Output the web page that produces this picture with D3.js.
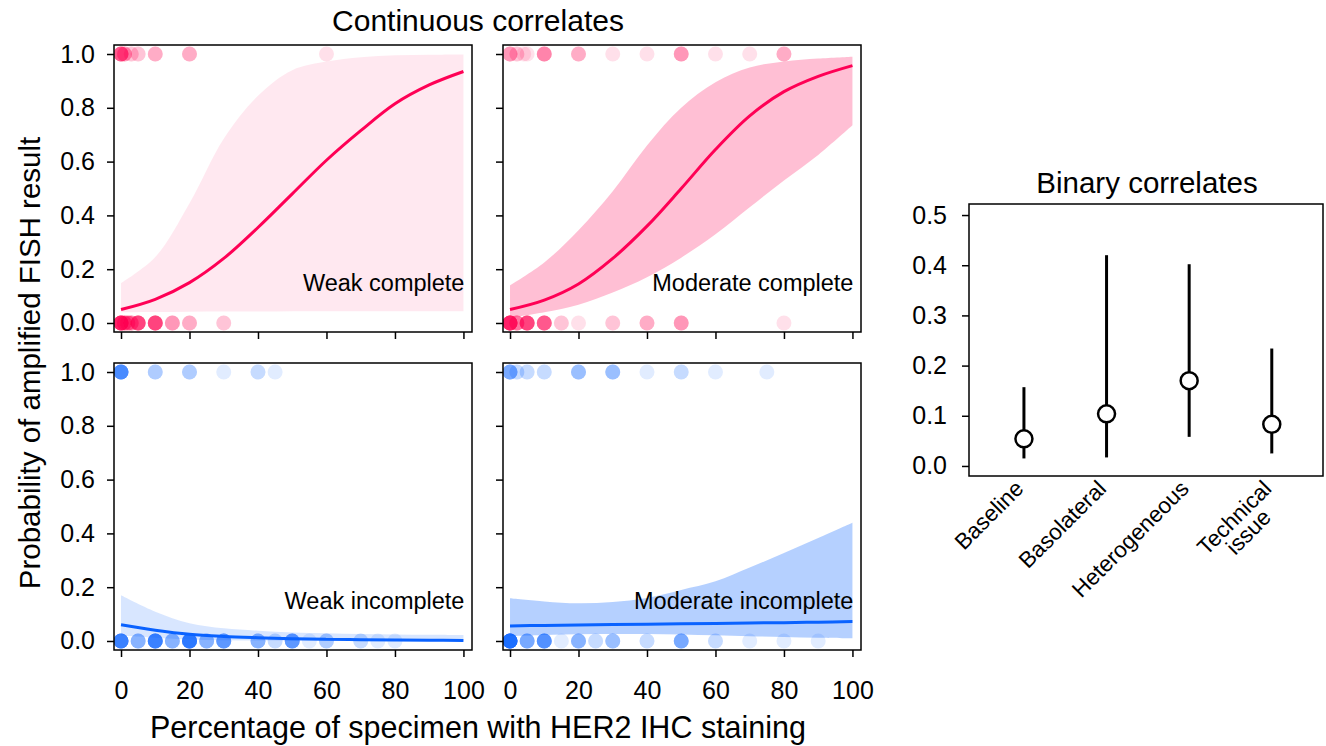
<!DOCTYPE html>
<html>
<head>
<meta charset="utf-8">
<script src="https://cdn.jsdelivr.net/npm/d3@7"></script>
<style>
  body { margin: 0; background: #fff; }
  svg { font-family: "Liberation Sans", Arial, Helvetica, sans-serif; }
  .axis path.domain { display: none; }
  .axis line { stroke: #000; stroke-width: 1.5; }
  .axis text { fill: #000; font-size: 25px; }
</style>
</head>
<body>
<svg width="1326" height="746"></svg>
<script>
// grid of x values the fitted curves were read at
const xGrid = [0, 10, 20, 30, 40, 50, 60, 70, 80, 90, 100];

// weak complete
const wcFit = [0.05, 0.088, 0.15, 0.24, 0.355, 0.48, 0.605, 0.715, 0.815, 0.885, 0.935];
const wcLo = [0.04, 0.041, 0.042, 0.043, 0.043, 0.044, 0.044, 0.044, 0.044, 0.044, 0.044];
const wcHi = [0.148, 0.245, 0.445, 0.685, 0.845, 0.94, 0.972, 0.988, 0.995, 0.997, 0.998];
const wcYes = [[0, 8], [1, 4], [3, 2], [5, 2], [10, 3], [20, 3], [60, 1]];
const wcNo = [[0, 15], [1, 6], [2, 5], [3, 5], [5, 10], [10, 10], [15, 4], [20, 3], [30, 2]];

// moderate complete
const mcFit = [0.05, 0.085, 0.145, 0.24, 0.36, 0.5, 0.645, 0.77, 0.86, 0.917, 0.957];
const mcLo = [0.02, 0.04, 0.068, 0.113, 0.17, 0.243, 0.33, 0.43, 0.53, 0.625, 0.735];
const mcHi = [0.14, 0.225, 0.345, 0.49, 0.66, 0.8, 0.895, 0.95, 0.972, 0.983, 0.99];
const mcYes = [[0, 4], [2, 2], [4, 1], [5, 1], [10, 5], [20, 3], [30, 1], [40, 1], [50, 4], [60, 1], [70, 1], [80, 3]];
const mcNo = [[0, 15], [2, 6], [5, 10], [10, 8], [15, 2], [20, 1], [30, 2], [40, 3], [50, 4], [80, 1]];

// weak incomplete
const wiFit = [0.06, 0.04, 0.025, 0.017, 0.012, 0.008, 0.006, 0.005, 0.004, 0.003, 0.002];
const wiLo = [0.02, 0.012, 0.006, 0.003, 0.0015, 0.001, 0.0005, 0.0003, 0.0002, 0.0001, 0.0001];
const wiHi = [0.17, 0.109, 0.066, 0.047, 0.038, 0.032, 0.029, 0.026, 0.024, 0.023, 0.022];
const wiYes = [[0, 10], [10, 3], [20, 3], [30, 1], [40, 2], [45, 1]];
const wiNo = [[0, 12], [5, 5], [10, 12], [15, 5], [20, 14], [25, 5], [30, 8], [40, 5], [45, 2], [50, 8], [55, 1], [60, 3], [70, 2], [75, 1], [80, 1]];

// moderate incomplete
const miFit = [0.056, 0.058, 0.059, 0.061, 0.062, 0.064, 0.065, 0.067, 0.068, 0.07, 0.072];
const miLo = [0.018, 0.022, 0.025, 0.026, 0.026, 0.024, 0.021, 0.018, 0.015, 0.012, 0.01];
const miHi = [0.159, 0.147, 0.14, 0.145, 0.16, 0.19, 0.222, 0.273, 0.327, 0.383, 0.44];
const miYes = [[0, 6], [2, 2], [5, 2], [10, 2], [20, 4], [30, 4], [40, 1], [50, 2], [60, 1], [75, 1]];
const miNo = [[0, 18], [5, 6], [10, 9], [15, 1], [20, 5], [25, 2], [30, 4], [40, 2], [50, 6], [60, 2], [70, 1], [80, 1], [90, 1]];

// binary correlates
const binCategories = ['Baseline', 'Basolateral', 'Heterogeneous', 'Technical issue'];
const binEst = [0.054, 0.104, 0.17, 0.083];
const binLo = [0.015, 0.017, 0.058, 0.025];
const binHi = [0.157, 0.42, 0.402, 0.234];

const xTicks = [0, 20, 40, 60, 80, 100];
const yTicks = [0, 0.2, 0.4, 0.6, 0.8, 1];
const binTicks = [0, 0.1, 0.2, 0.3, 0.4, 0.5];

const pink = '#ff0055';
const blue = '#0a62ff';

const svg = d3.select('svg');
svg.append('rect').attr('width', 1326).attr('height', 746).attr('fill', '#fff');

const panels = [
  { label: 'Weak complete', fit: wcFit, lo: wcLo, hi: wcHi, yes: wcYes, no: wcNo, color: pink, band: 0.09, left: 114, top: 45, xLabels: false, yLabels: true },
  { label: 'Moderate complete', fit: mcFit, lo: mcLo, hi: mcHi, yes: mcYes, no: mcNo, color: pink, band: 0.25, left: 503, top: 45, xLabels: false, yLabels: false },
  { label: 'Weak incomplete', fit: wiFit, lo: wiLo, hi: wiHi, yes: wiYes, no: wiNo, color: blue, band: 0.16, left: 114, top: 363, xLabels: true, yLabels: true },
  { label: 'Moderate incomplete', fit: miFit, lo: miLo, hi: miHi, yes: miYes, no: miNo, color: blue, band: 0.3, left: 503, top: 363, xLabels: true, yLabels: false }
];

const pw = 358;
const ph = 287;
const smooth = d3.curveCatmullRom.alpha(0.5);

const drawPanel = (p, i) => {
  const x = d3.scaleLinear().domain([-2.05, 102.5]).range([p.left, p.left + pw]);
  const y = d3.scaleLinear().domain([-0.0335, 1.0335]).range([p.top + ph, p.top]);
  const g = svg.append('g');

  const clipId = 'clip' + i;
  svg.append('clipPath').attr('id', clipId)
    .append('rect').attr('x', p.left).attr('y', p.top).attr('width', pw).attr('height', ph);

  const inner = g.append('g').attr('clip-path', `url(#${clipId})`);

  const rows = xGrid.map((v, k) => ({ x: v, fit: p.fit[k], lo: p.lo[k], hi: p.hi[k] }));

  inner.append('path')
    .datum(rows)
    .attr('fill', p.color)
    .attr('fill-opacity', p.band)
    .attr('d', d3.area()
      .curve(smooth)
      .x((d) => x(d.x))
      .y0((d) => y(d.lo))
      .y1((d) => y(d.hi)));

  // observations: each one is a faint disc, overlaps build up colour
  const dots = [];
  p.yes.forEach(([v, n]) => { for (let k = 0; k < n; k++) dots.push({ x: v, y: 1 }); });
  p.no.forEach(([v, n]) => { for (let k = 0; k < n; k++) dots.push({ x: v, y: 0 }); });

  inner.selectAll('circle')
    .data(dots)
    .enter()
    .append('circle')
    .attr('cx', (d) => x(d.x))
    .attr('cy', (d) => y(d.y))
    .attr('r', 7.5)
    .attr('fill', p.color)
    .attr('fill-opacity', 0.12);

  inner.append('path')
    .datum(rows)
    .attr('fill', 'none')
    .attr('stroke', p.color)
    .attr('stroke-width', 3)
    .attr('d', d3.line()
      .curve(smooth)
      .x((d) => x(d.x))
      .y((d) => y(d.fit)));

  g.append('rect')
    .attr('x', p.left).attr('y', p.top)
    .attr('width', pw).attr('height', ph)
    .attr('fill', 'none').attr('stroke', '#000').attr('stroke-width', 1.5);

  g.append('g')
    .attr('class', 'axis')
    .attr('transform', `translate(${p.left},0)`)
    .call(d3.axisLeft(y).tickValues(yTicks).tickSize(7).tickPadding(12)
      .tickFormat(p.yLabels ? d3.format('.1f') : ''));

  g.append('g')
    .attr('class', 'axis')
    .attr('transform', `translate(0,${p.top + ph})`)
    .call(d3.axisBottom(x).tickValues(xTicks).tickSize(7).tickPadding(24)
      .tickFormat(p.xLabels ? d3.format('d') : ''));

  g.append('text')
    .attr('x', x(100) + 1)
    .attr('y', y(0.12))
    .attr('text-anchor', 'end')
    .attr('font-size', 23.5)
    .text(p.label);
};

panels.forEach(drawPanel);

svg.append('text')
  .attr('x', 478).attr('y', 31)
  .attr('text-anchor', 'middle').attr('font-size', 30)
  .text('Continuous correlates');

svg.append('text')
  .attr('x', 478).attr('y', 738)
  .attr('text-anchor', 'middle').attr('font-size', 30.5)
  .text('Percentage of specimen with HER2 IHC staining');

svg.append('text')
  .attr('transform', 'translate(40,363) rotate(-90)')
  .attr('text-anchor', 'middle').attr('font-size', 29.5)
  .text('Probability of amplified FISH result');

// binary correlates panel
const bx = d3.scaleLinear().domain([0.335, 4.62]).range([969, 1323]);
const by = d3.scaleLinear().domain([-0.02, 0.522]).range([476, 204]);
const bg = svg.append('g');

bg.append('text')
  .attr('x', 1147).attr('y', 193)
  .attr('text-anchor', 'middle').attr('font-size', 29.5)
  .text('Binary correlates');

bg.append('rect')
  .attr('x', 969).attr('y', 204)
  .attr('width', 1323 - 969).attr('height', 476 - 204)
  .attr('fill', 'none').attr('stroke', '#000').attr('stroke-width', 1.5);

bg.append('g')
  .attr('class', 'axis')
  .attr('transform', 'translate(969,0)')
  .call(d3.axisLeft(by).tickValues(binTicks).tickSize(7).tickPadding(15).tickFormat(d3.format('.1f')));

const binRows = binCategories.map((c, k) => ({ c, i: k + 1, est: binEst[k], lo: binLo[k], hi: binHi[k] }));

bg.selectAll('line.ci')
  .data(binRows)
  .enter()
  .append('line')
  .attr('class', 'ci')
  .attr('x1', (d) => bx(d.i)).attr('x2', (d) => bx(d.i))
  .attr('y1', (d) => by(d.lo)).attr('y2', (d) => by(d.hi))
  .attr('stroke', '#000').attr('stroke-width', 3);

bg.selectAll('circle')
  .data(binRows)
  .enter()
  .append('circle')
  .attr('cx', (d) => bx(d.i)).attr('cy', (d) => by(d.est))
  .attr('r', 8.5)
  .attr('fill', '#fff').attr('stroke', '#000').attr('stroke-width', 2.5);

const catLabels = bg.selectAll('g.cat')
  .data(binRows)
  .enter()
  .append('g')
  .attr('class', 'cat')
  .attr('transform', (d) => `translate(${bx(d.i) + 1},490) rotate(-45)`);

catLabels.each(function (d) {
  const sel = d3.select(this);
  const words = d.c.split(' ');
  const first = sel.append('text')
    .attr('text-anchor', 'end').attr('font-size', 22.5)
    .text(d.c === 'Technical issue' ? words[0] : d.c);
  if (d.c === 'Technical issue') {
    const w = first.node().getComputedTextLength();
    sel.append('text')
      .attr('x', -w / 2).attr('y', 20)
      .attr('text-anchor', 'middle').attr('font-size', 22.5)
      .text(words[1]);
  }
});
</script>
</body>
</html>
